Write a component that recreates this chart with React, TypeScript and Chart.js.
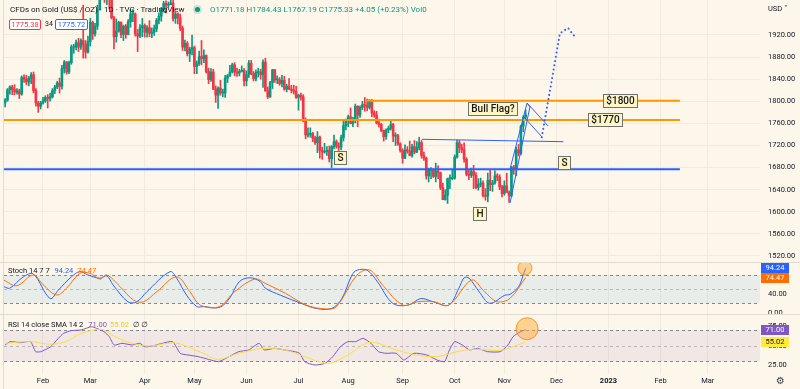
import React, { useEffect, useRef } from 'react';
import { Chart, registerables } from 'chart.js';

Chart.register(...registerables);

type Candle = [number, number, number, number]; // open, high, low, close
type Pt = [number, number]; // weekday index (0 = 3 Jan 2022), value

// ---------- price data (daily, weekday index starting at FIRST_BAR = 10 Jan 2022) ----------
const FIRST_BAR = 5;
const jan: Candle[] = [
  [1797, 1805, 1790, 1802], [1802, 1823, 1800, 1821], [1821, 1828, 1813, 1826], [1826, 1829, 1812, 1821], [1821, 1830, 1812, 1817],
  [1817, 1823, 1813, 1819], [1819, 1822, 1805, 1813], [1813, 1846, 1811, 1843], [1843, 1848, 1834, 1840], [1840, 1847, 1830, 1835],
  [1835, 1845, 1828, 1842], [1842, 1852, 1832, 1848], [1848, 1853, 1815, 1819], [1819, 1823, 1791, 1797], [1797, 1800, 1780, 1791],
  [1791, 1800, 1786, 1797],
];
const feb: Candle[] = [
  [1797, 1807, 1795, 1801], [1801, 1810, 1798, 1807], [1807, 1812, 1788, 1805], [1805, 1815, 1800, 1808],
  [1808, 1823, 1806, 1820], [1820, 1829, 1814, 1826], [1826, 1836, 1823, 1833], [1833, 1842, 1815, 1827], [1827, 1865, 1822, 1859],
  [1859, 1874, 1851, 1871], [1871, 1872, 1849, 1853], [1853, 1873, 1850, 1870], [1870, 1902, 1867, 1898], [1898, 1903, 1887, 1898],
  [1898, 1911, 1893, 1906], [1906, 1914, 1890, 1898], [1898, 1913, 1894, 1910], [1910, 1974, 1878, 1903], [1903, 1910, 1878, 1889],
  [1889, 1918, 1887, 1908],
];
const mar: Candle[] = [
  [1908, 1950, 1900, 1943], [1943, 1945, 1912, 1922], [1922, 1941, 1918, 1936], [1936, 1974, 1930, 1966],
  [1966, 2002, 1965, 1998], [1998, 2070, 1990, 2050], [2050, 2055, 1979, 1990], [1990, 2010, 1975, 2000], [2000, 2010, 1968, 1988],
  [1988, 1990, 1949, 1951], [1951, 1954, 1895, 1917], [1917, 1949, 1907, 1927], [1927, 1945, 1925, 1943], [1943, 1944, 1915, 1921],
  [1921, 1938, 1910, 1936], [1936, 1939, 1914, 1921], [1921, 1948, 1920, 1944], [1944, 1966, 1934, 1958], [1958, 1966, 1944, 1958],
  [1958, 1960, 1918, 1922], [1922, 1930, 1890, 1918], [1918, 1939, 1915, 1933], [1933, 1950, 1917, 1937],
];
const apr: Candle[] = [
  [1937, 1940, 1916, 1925],
  [1925, 1937, 1916, 1933], [1933, 1946, 1917, 1923], [1923, 1933, 1915, 1925], [1925, 1938, 1919, 1931], [1931, 1950, 1926, 1947],
  [1947, 1960, 1940, 1954], [1954, 1970, 1945, 1966], [1966, 1981, 1963, 1977], [1977, 1982, 1960, 1974], [1974, 1980, 1970, 1975],
  [1975, 1998, 1975, 1978], [1978, 1983, 1945, 1950], [1950, 1961, 1941, 1958], [1958, 1960, 1940, 1951], [1951, 1958, 1928, 1932],
  [1932, 1936, 1892, 1898], [1898, 1911, 1891, 1905], [1905, 1908, 1882, 1886], [1886, 1898, 1872, 1894], [1894, 1920, 1884, 1897],
];
const may: Candle[] = [
  [1897, 1900, 1850, 1863], [1863, 1873, 1850, 1868], [1868, 1891, 1865, 1881], [1881, 1910, 1866, 1877], [1877, 1893, 1870, 1883],
  [1883, 1884, 1851, 1854], [1854, 1860, 1832, 1839], [1839, 1859, 1836, 1853], [1853, 1858, 1821, 1822], [1822, 1828, 1798, 1811],
  [1811, 1826, 1787, 1824], [1824, 1838, 1811, 1815], [1815, 1822, 1808, 1815], [1815, 1847, 1807, 1842], [1842, 1849, 1834, 1846],
  [1846, 1865, 1845, 1853], [1853, 1869, 1851, 1866], [1866, 1870, 1846, 1853], [1853, 1860, 1845, 1851], [1851, 1858, 1846, 1854],
  [1854, 1864, 1853, 1856], [1856, 1859, 1828, 1837],
];
const jun: Candle[] = [
  [1837, 1855, 1828, 1848], [1848, 1874, 1843, 1869], [1869, 1874, 1848, 1850],
  [1850, 1854, 1837, 1841], [1841, 1857, 1837, 1852], [1852, 1860, 1844, 1853], [1853, 1858, 1840, 1848], [1848, 1875, 1825, 1871],
  [1871, 1878, 1818, 1819], [1819, 1826, 1805, 1808], [1808, 1836, 1807, 1834], [1834, 1858, 1823, 1857], [1857, 1858, 1834, 1839],
  [1839, 1846, 1832, 1839], [1839, 1843, 1829, 1832], [1832, 1847, 1826, 1838], [1838, 1845, 1820, 1822], [1822, 1831, 1817, 1827],
  [1827, 1841, 1821, 1822], [1822, 1829, 1815, 1820], [1820, 1829, 1813, 1818], [1818, 1827, 1805, 1807],
];
const jul: Candle[] = [
  [1807, 1813, 1784, 1811],
  [1811, 1815, 1802, 1808], [1808, 1812, 1763, 1764], [1764, 1770, 1732, 1739], [1739, 1752, 1735, 1740], [1740, 1752, 1735, 1742],
  [1742, 1744, 1727, 1733], [1733, 1737, 1722, 1725], [1725, 1745, 1707, 1735], [1735, 1737, 1697, 1711], [1711, 1717, 1695, 1708],
  [1708, 1724, 1706, 1709], [1709, 1718, 1702, 1711], [1711, 1719, 1690, 1696], [1696, 1720, 1680, 1718], [1718, 1739, 1714, 1727],
  [1727, 1730, 1715, 1719], [1719, 1725, 1711, 1717], [1717, 1739, 1712, 1734], [1734, 1766, 1728, 1756], [1756, 1768, 1748, 1766],
];
const aug: Candle[] = [
  [1766, 1775, 1754, 1772], [1772, 1788, 1759, 1760], [1760, 1771, 1754, 1765], [1765, 1795, 1761, 1791], [1791, 1792, 1754, 1775],
  [1775, 1792, 1771, 1789], [1789, 1800, 1785, 1794], [1794, 1807, 1782, 1792], [1792, 1804, 1783, 1789], [1789, 1803, 1786, 1802],
  [1802, 1803, 1772, 1779], [1779, 1783, 1771, 1775], [1775, 1782, 1759, 1761], [1761, 1768, 1753, 1758], [1758, 1760, 1745, 1747],
  [1747, 1748, 1728, 1736], [1736, 1750, 1731, 1748], [1748, 1755, 1743, 1751], [1751, 1765, 1748, 1758], [1758, 1760, 1727, 1737],
  [1737, 1743, 1720, 1738], [1738, 1740, 1720, 1723], [1723, 1725, 1708, 1711],
];
const sep: Candle[] = [
  [1711, 1714, 1688, 1697], [1697, 1721, 1696, 1712],
  [1712, 1718, 1706, 1710], [1710, 1728, 1701, 1702], [1702, 1722, 1699, 1718], [1718, 1729, 1705, 1708], [1708, 1727, 1707, 1716],
  [1716, 1735, 1712, 1725], [1725, 1729, 1697, 1702], [1702, 1708, 1693, 1697], [1697, 1699, 1659, 1665], [1665, 1679, 1654, 1675],
  [1675, 1680, 1660, 1675], [1675, 1678, 1662, 1664], [1664, 1688, 1654, 1674], [1674, 1683, 1660, 1671], [1671, 1672, 1640, 1644],
  [1644, 1652, 1622, 1622], [1622, 1640, 1621, 1630], [1630, 1661, 1615, 1660], [1660, 1667, 1642, 1660], [1660, 1675, 1658, 1661],
];
const oct: Candle[] = [
  [1661, 1703, 1659, 1699], [1699, 1730, 1697, 1725], [1725, 1729, 1707, 1716], [1716, 1722, 1707, 1712], [1712, 1725, 1690, 1695],
  [1695, 1698, 1665, 1668], [1668, 1677, 1658, 1666], [1666, 1679, 1662, 1673], [1673, 1684, 1642, 1666], [1666, 1671, 1642, 1644],
  [1644, 1660, 1639, 1650], [1650, 1661, 1645, 1652], [1652, 1656, 1627, 1629], [1629, 1642, 1621, 1628], [1628, 1670, 1618, 1657],
  [1657, 1675, 1638, 1649], [1649, 1657, 1637, 1652], [1652, 1674, 1650, 1665], [1665, 1669, 1656, 1663], [1663, 1667, 1640, 1645],
  [1645, 1648, 1627, 1633],
];
const nov: Candle[] = [
  [1633, 1656, 1630, 1647], [1647, 1670, 1635, 1635], [1635, 1638, 1617, 1629], [1629, 1682, 1627, 1681],
  [1681, 1684, 1668, 1676], [1676, 1717, 1665, 1712], [1712, 1722, 1701, 1706], [1706, 1757, 1703, 1755], [1755, 1774, 1745, 1771],
  [1771.18, 1784.43, 1767.19, 1775.33],
];

// ---------- axes ----------
const monthTickIdx = [21, 41, 64, 85, 107, 129, 150, 173, 195, 216, 238, 260, 282, 302];
const monthTickLabels = ['Feb', 'Mar', 'Apr', 'May', 'Jun', 'Jul', 'Aug', 'Sep', 'Oct', 'Nov', 'Dec', '2023', 'Feb', 'Mar'];
const priceTicks = [1520, 1560, 1600, 1640, 1680, 1720, 1760, 1800, 1840, 1880, 1920];
const stochTicks = [0, 40, 80];
const rsiTicks = [25, 50, 75];

// ---------- indicators ----------
const stochK: Pt[] = [
  [4.5, 55], [7, 52], [12.7, 76], [16.9, 82], [24, 30], [27.5, 48], [33, 76], [36.6, 87], [40, 80], [45, 73], [48, 78],
  [50.6, 59], [56.9, 23], [60.6, 23], [64.8, 44], [74.7, 87], [77.5, 73], [81.7, 37], [86, 13], [89, 13], [95.5, 11],
  [99.8, 30], [104, 66], [108.5, 74], [112.8, 66], [115, 52], [121.4, 37], [130, 20], [136.5, 9], [143, 9], [147.3, 30],
  [151.6, 80], [153.7, 90], [158, 90], [162.3, 66], [168.8, 20], [175.3, 16], [180.7, 30], [186, 23], [192.5, 16],
  [196.8, 52], [199, 74], [201.1, 73], [205.4, 44], [209.8, 20], [216.2, 37], [218.4, 39], [222, 55], [224, 80], [225, 94.24],
];
const stochD: Pt[] = [
  [4.5, 69], [9.9, 57], [16.9, 80], [21.1, 59], [26.8, 37.5], [31, 52], [36.6, 83.5], [40.9, 83.5], [45.1, 71], [47.9, 80],
  [53.6, 55], [59.2, 27], [63.4, 23], [69.1, 44.5], [77.5, 76], [83.1, 44.5], [87.4, 16.3], [95.5, 12.8], [102, 44.5],
  [110.6, 71.4], [114.9, 62.2], [123.5, 41], [132.2, 16.3], [140.8, 7.8], [145.1, 12.8], [153.7, 79.8], [159.1, 90.4],
  [164.5, 58.7], [173.1, 16.3], [179.6, 23.4], [186, 23.4], [192.5, 16.3], [202.2, 69.2], [207.6, 44.5], [213, 23.4],
  [218.4, 30.4], [225, 74.47],
];
const rsi: Pt[] = [
  [5, 51.3], [7.1, 55.6], [11.4, 54.3], [15.7, 55.6], [17.9, 42.7], [20, 42.7], [24.3, 49.1], [27.5, 59.9], [29.7, 66.3],
  [32.9, 69.8], [37.2, 70.7], [41.5, 74.9], [43.6, 72.8], [46.8, 68.5], [49, 62.1], [51.1, 51.3], [54.4, 53.5], [58.7, 51.3],
  [61.9, 53.5], [64, 49.1], [67.2, 50], [71.5, 53.5], [75.8, 55.6], [79, 40.6], [82.3, 38.4], [86.6, 36.3], [90.9, 32.8],
  [95.1, 29.8], [98.4, 34.1], [103.7, 42.7], [108, 44.9], [112.3, 53.5], [114.5, 44.9], [118.8, 47], [123.1, 44.9],
  [127.4, 42.7], [129.5, 40.6], [131.6, 29.8], [135.9, 25.5], [140.2, 27.6], [143.5, 36.3], [146.7, 49.1], [149.9, 55.6],
  [153.1, 55.6], [156.3, 59.9], [159.6, 53.5], [162.8, 42.7], [166, 40.6], [170.3, 40.6], [173.5, 32], [177.8, 40.6],
  [183.2, 38.4], [187.5, 32], [190.7, 29.8], [192.8, 44.9], [195, 55.6], [198.2, 51.3], [201.4, 44.9], [204.6, 47],
  [208.9, 42.7], [214.3, 42.7], [217.5, 51.3], [219.7, 62.1], [222.9, 68.5], [225, 71.0],
];
const rsiSma: Pt[] = [
  [5, 53.5], [15.7, 55.6], [24.3, 52.2], [30.7, 55.6], [37.2, 66.3], [45.8, 71.5], [50.1, 64.2], [56.5, 55.6], [65.1, 50],
  [73.7, 53.5], [78, 53.5], [88.7, 40.6], [95.1, 32.8], [103.7, 40.6], [114.5, 47], [123.1, 44.9], [131.6, 36.3],
  [140.2, 27.6], [144.5, 29.8], [151, 40.6], [157.4, 53.5], [161.7, 54.3], [168.2, 47], [178.9, 38.4], [187.5, 36.3],
  [196.1, 42.7], [202.5, 45.7], [208.9, 44.9], [215.4, 44.9], [225, 55.02],
];

// ---------- drawings (data coordinates: weekday index, price) ----------
const level1770: [number, number, number] = [4.52, 290.2, 1766.2];
const level1800: [number, number, number] = [157.1, 290.2, 1801];
const necklineLevel: [number, number, number] = [4.52, 290.2, 1677];
const flagTop: Pt[] = [[181.1, 1731.2], [240.9, 1726.9]];
const poleA: Pt[] = [[218.4, 1677.5], [225.6, 1796.9]];
const poleB: Pt[] = [[218.4, 1615.9], [226.8, 1789.7]];
const poleCap: Pt[] = [[225.6, 1796.9], [226.8, 1789.7]];
const flagA: Pt[] = [[225.6, 1796.9], [234.5, 1755.3]];
const flagB: Pt[] = [[223.9, 1773.4], [231.9, 1735.4]];
const projection: Pt[] = [[231.8, 1734.8], [239.5, 1923.1], [242.9, 1932.7], [245.9, 1916.4]];
const tags: [string, number, number][] = [
  ['Bull Flag?', 211.3, 1786.4], ['$1800', 265, 1801], ['$1770', 258.8, 1765.6],
  ['S', 146.7, 1697.4], ['S', 241.6, 1688.9], ['H', 205.5, 1596.4],
];
const stochMark: Pt = [224.7, 94.6];
const rsiMark: Pt = [225.6, 72.3];

// ---------- styling ----------
const X_MIN = 4.522;
const X_MAX = 324.05;
const BG = '#fdf6ea';
const GRID = '#f2eadd';
const TEXT = '#131722';
const UP = '#089981';
const DOWN = '#f23645';
const FONT = 'Roboto, "DejaVu Sans", sans-serif';

const candles: Candle[] = [...jan, ...feb, ...mar, ...apr, ...may, ...jun, ...jul, ...aug, ...sep, ...oct, ...nov];

function xAxis(labels: boolean): any {
  return {
    type: 'linear',
    min: X_MIN,
    max: X_MAX,
    offset: false,
    grid: { color: GRID, drawTicks: false, offset: false },
    border: { display: false },
    afterBuildTicks: (s: any) => { s.ticks = monthTickIdx.map((v) => ({ value: v })); },
    ticks: labels
      ? {
          autoSkip: false,
          maxRotation: 0,
          padding: 3,
          color: TEXT,
          font: (c: any) => ({ family: FONT, size: 7.5, weight: c.tick && c.tick.value === 260 ? 'bold' : 'normal' }),
          callback: (v: any) => {
            const k = monthTickIdx.indexOf(Number(v));
            return k >= 0 ? monthTickLabels[k] : '';
          },
        }
      : { display: false, autoSkip: false },
    afterFit: (s: any) => {
      s.height = labels ? 15 : 0;
      s.paddingLeft = 0;
      s.paddingRight = 0;
    },
  };
}

function yAxis(min: number, max: number, ticks: number[], grid: boolean): any {
  return {
    position: 'right',
    min,
    max,
    grid: { display: grid, color: GRID, drawTicks: false },
    border: { display: false },
    afterBuildTicks: (s: any) => { s.ticks = ticks.map((v) => ({ value: v })); },
    ticks: {
      autoSkip: false,
      padding: 8,
      color: TEXT,
      font: { family: FONT, size: 7.5 },
      callback: (v: any) => Number(v).toFixed(2),
    },
    afterFit: (s: any) => {
      s.width = 40;
      s.paddingTop = 0;
      s.paddingBottom = 0;
    },
  };
}

function valueBox(ctx: CanvasRenderingContext2D, left: number, cy: number, text: string, bg: string, fg: string) {
  ctx.fillStyle = bg;
  ctx.fillRect(left, Math.round(cy - 5), 28, 10);
  ctx.fillStyle = fg;
  ctx.font = `7.5px ${FONT}`;
  ctx.textAlign = 'center';
  ctx.textBaseline = 'middle';
  ctx.fillText(text, left + 14, Math.round(cy - 5) + 5.5);
}

function bandPlugin(id: string, lo: number, hi: number, fill: string) {
  return {
    id,
    beforeDatasetsDraw(chart: any) {
      const { ctx, chartArea: a, scales } = chart;
      const y = scales.y;
      const yHi = y.getPixelForValue(hi);
      const yLo = y.getPixelForValue(lo);
      const yMid = y.getPixelForValue(50);
      ctx.save();
      ctx.fillStyle = fill;
      ctx.fillRect(a.left, yHi, a.right - a.left, yLo - yHi);
      ctx.setLineDash([3, 3]);
      ctx.lineWidth = 1;
      ctx.strokeStyle = 'rgba(120,123,134,0.9)';
      [yHi, yLo].forEach((yy) => {
        ctx.beginPath();
        ctx.moveTo(a.left, Math.round(yy) + 0.5);
        ctx.lineTo(a.right, Math.round(yy) + 0.5);
        ctx.stroke();
      });
      ctx.strokeStyle = 'rgba(120,123,134,0.45)';
      ctx.beginPath();
      ctx.moveTo(a.left, Math.round(yMid) + 0.5);
      ctx.lineTo(a.right, Math.round(yMid) + 0.5);
      ctx.stroke();
      ctx.restore();
    },
  };
}

function markPlugin(id: string, mark: Pt, r: number, boxes: [number, string, string][]) {
  return {
    id,
    afterDraw(chart: any) {
      const { ctx, chartArea: a, scales } = chart;
      const x = scales.x;
      const y = scales.y;
      ctx.save();
      ctx.beginPath();
      ctx.rect(a.left, a.top, a.right - a.left, a.bottom - a.top);
      ctx.clip();
      ctx.beginPath();
      ctx.arc(x.getPixelForValue(mark[0]), y.getPixelForValue(mark[1]), r, 0, Math.PI * 2);
      ctx.fillStyle = 'rgba(255,167,38,0.45)';
      ctx.fill();
      ctx.strokeStyle = 'rgba(245,124,0,0.75)';
      ctx.lineWidth = 1;
      ctx.stroke();
      ctx.restore();
      ctx.save();
      boxes.forEach(([v, bg, fg]) => valueBox(ctx, a.right + 1, y.getPixelForValue(v), v.toFixed(2), bg, fg));
      ctx.restore();
    },
  };
}

const mainOverlay = {
  id: 'mainOverlay',
  afterDatasetsDraw(chart: any) {
    const { ctx, chartArea: a, scales } = chart;
    const X = (i: number) => scales.x.getPixelForValue(i);
    const Y = (p: number) => scales.y.getPixelForValue(p);
    ctx.save();
    ctx.beginPath();
    ctx.rect(a.left, a.top, a.right - a.left, a.bottom - a.top);
    ctx.clip();
    const level = (l: [number, number, number], color: string) => {
      ctx.strokeStyle = color;
      ctx.lineWidth = 2;
      ctx.beginPath();
      ctx.moveTo(X(l[0]), Y(l[2]));
      ctx.lineTo(X(l[1]), Y(l[2]));
      ctx.stroke();
    };
    level(level1770, '#ff9800');
    level(level1800, '#ff9800');
    level(necklineLevel, '#2962ff');
    const seg = (pts: Pt[], w: number) => {
      ctx.strokeStyle = '#2962ff';
      ctx.lineWidth = w;
      ctx.beginPath();
      pts.forEach((p, k) => (k === 0 ? ctx.moveTo(X(p[0]), Y(p[1])) : ctx.lineTo(X(p[0]), Y(p[1]))));
      ctx.stroke();
    };
    seg(flagTop, 1);
    seg(poleA, 1);
    seg(poleB, 1);
    seg(poleCap, 1);
    seg(flagA, 1);
    seg(flagB, 1);
    ctx.setLineDash([0.1, 4.2]);
    ctx.lineCap = 'round';
    seg(projection, 2);
    ctx.setLineDash([]);
    ctx.lineCap = 'butt';
    ctx.font = `500 10px ${FONT}`;
    ctx.textAlign = 'center';
    ctx.textBaseline = 'middle';
    tags.forEach(([t, i, p]) => {
      const cx = X(i);
      const cy = Y(p);
      const w = Math.round(ctx.measureText(t).width + 7);
      const h = 14;
      const l = Math.round(cx - w / 2);
      const tp = Math.round(cy - h / 2);
      ctx.fillStyle = '#fff7c2';
      ctx.fillRect(l, tp, w, h);
      ctx.strokeStyle = '#707070';
      ctx.lineWidth = 1;
      ctx.strokeRect(l + 0.5, tp + 0.5, w - 1, h - 1);
      ctx.fillStyle = TEXT;
      ctx.fillText(t, l + w / 2, tp + h / 2 + 0.5);
    });
    ctx.restore();
  },
};

export default function App() {
  const mainRef = useRef<HTMLCanvasElement>(null);
  const stochRef = useRef<HTMLCanvasElement>(null);
  const rsiRef = useRef<HTMLCanvasElement>(null);

  useEffect(() => {
    document.body.style.margin = '0';
    const wickData = candles.map((c, k) => ({ x: FIRST_BAR + k, y: [c[2], c[1]] }));
    const bodyData = candles.map((c, k) => ({ x: FIRST_BAR + k, y: [c[0], c[3]] }));
    const colors = candles.map((c) => (c[3] >= c[0] ? UP : DOWN));
    const common = {
      animation: false,
      responsive: false,
      maintainAspectRatio: false,
      events: [],
      plugins: { legend: { display: false }, tooltip: { enabled: false } },
    };

    const main = new Chart(mainRef.current!, {
      type: 'bar',
      data: {
        datasets: [
          { data: wickData as any, backgroundColor: colors, barThickness: 1, grouped: false, order: 2, borderWidth: 0 },
          { data: bodyData as any, backgroundColor: colors, barThickness: 2, grouped: false, order: 1, borderWidth: 0, minBarLength: 1 },
        ],
      },
      options: {
        ...common,
        layout: { autoPadding: false, padding: { left: 4, right: 0, top: 0, bottom: 1 } },
        scales: { x: xAxis(false), y: yAxis(1509.1, 1983.35, priceTicks, true) },
      } as any,
      plugins: [mainOverlay],
    });

    const lineDs = (pts: Pt[], color: string) => ({
      data: pts.map(([x, y]) => ({ x, y })),
      borderColor: color,
      borderWidth: 1,
      pointRadius: 0,
      pointHoverRadius: 0,
      tension: 0.35,
      fill: false,
    });

    const stoch = new Chart(stochRef.current!, {
      type: 'line',
      data: { datasets: [lineDs(stochD, '#ff6d00'), lineDs(stochK, '#2962ff')] as any },
      options: {
        ...common,
        layout: { autoPadding: false, padding: { left: 4, right: 0, top: 0, bottom: 0 } },
        scales: { x: xAxis(false), y: yAxis(-2.75, 105.3, stochTicks, false) },
      } as any,
      plugins: [
        bandPlugin('stochBand', 20, 80, 'rgba(33,150,243,0.09)'),
        markPlugin('stochMark', stochMark, 7, [
          [stochK[stochK.length - 1][1], '#2962ff', '#ffffff'],
          [stochD[stochD.length - 1][1], '#ff6d00', '#ffffff'],
        ]),
      ],
    });

    const rsiChart = new Chart(rsiRef.current!, {
      type: 'line',
      data: { datasets: [lineDs(rsiSma, '#f5e03a'), { ...lineDs(rsi, '#7e57c2'), tension: 0.2 }] as any },
      options: {
        ...common,
        layout: { autoPadding: false, padding: { left: 4, right: 0, top: 1, bottom: 0 } },
        scales: { x: xAxis(true), y: yAxis(13.87, 90, rsiTicks, false) },
      } as any,
      plugins: [
        bandPlugin('rsiBand', 30, 70, 'rgba(126,87,194,0.09)'),
        markPlugin('rsiMark', rsiMark, 11, [
          [rsi[rsi.length - 1][1], '#7e57c2', '#ffffff'],
          [rsiSma[rsiSma.length - 1][1], '#ffeb3b', '#131722'],
        ]),
      ],
    });

    return () => {
      main.destroy();
      stoch.destroy();
      rsiChart.destroy();
    };
  }, []);

  const last = candles[candles.length - 1];
  const kLast = stochK[stochK.length - 1][1];
  const dLast = stochD[stochD.length - 1][1];
  const rLast = rsi[rsi.length - 1][1];
  const sLast = rsiSma[rsiSma.length - 1][1];
  const abs = (s: React.CSSProperties): React.CSSProperties => ({ position: 'absolute', whiteSpace: 'nowrap', ...s });

  return (
    <div style={{ position: 'relative', width: 800, height: 389, background: BG, overflow: 'hidden', fontFamily: FONT, color: TEXT }}>
      <canvas ref={mainRef} width={800} height={263} style={{ position: 'absolute', left: 0, top: 0 }} />
      <canvas ref={stochRef} width={800} height={51} style={{ position: 'absolute', left: 0, top: 263 }} />
      <canvas ref={rsiRef} width={800} height={75} style={{ position: 'absolute', left: 0, top: 314 }} />
      <div style={abs({ left: 0, top: 262, width: 800, height: 1, background: '#e2dccf' })} />
      <div style={abs({ left: 0, top: 314, width: 800, height: 1, background: '#e2dccf' })} />
      <div style={abs({ left: 3, top: 0, width: 1, height: 389, background: '#e2dccf' })} />

      <div style={abs({ left: 10, top: 4, fontSize: 8, lineHeight: '12px' })}>CFDs on Gold (US$ / OZ) · 1D · TVC · TradingView</div>
      <div style={abs({ left: 195, top: 7, width: 5, height: 5, borderRadius: '50%', background: UP, boxShadow: '0 0 0 2px rgba(8,153,129,0.2)' })} />
      <div style={abs({ left: 210, top: 4, fontSize: 8, lineHeight: '12px', color: UP })}>
        O{last[0].toFixed(2)} H{last[1].toFixed(2)} L{last[2].toFixed(2)} C{last[3].toFixed(2)} +4.05 (+0.23%) Vol0
      </div>
      <div style={abs({ left: 9, top: 19, width: 30, height: 9, border: '1px solid #f23645', borderRadius: 2, background: '#ffffff', color: '#f23645', fontSize: 7.5, lineHeight: '9px', textAlign: 'center' })}>1775.38</div>
      <div style={abs({ left: 45, top: 19, fontSize: 7, lineHeight: '11px' })}>34</div>
      <div style={abs({ left: 55, top: 19, width: 31, height: 9, border: '1px solid #2962ff', borderRadius: 2, background: '#ffffff', color: '#2962ff', fontSize: 7.5, lineHeight: '9px', textAlign: 'center' })}>1775.72</div>
      <div style={abs({ left: 768, top: 3, fontSize: 7.5, lineHeight: '12px' })}>USD ˅</div>

      <div style={abs({ left: 8, top: 265, fontSize: 7.5, lineHeight: '11px' })}>
        Stoch 14 7 7 <span style={{ color: '#2962ff', marginLeft: 3 }}>{kLast.toFixed(2)}</span>
        <span style={{ color: '#ff6d00', marginLeft: 4 }}>{dLast.toFixed(2)}</span>
      </div>
      <div style={abs({ left: 8, top: 319, fontSize: 7.5, lineHeight: '11px' })}>
        RSI 14 close SMA 14 2 <span style={{ color: '#7e57c2', marginLeft: 3 }}>{rLast.toFixed(2)}</span>
        <span style={{ color: '#e8cf1c', marginLeft: 3 }}>{sLast.toFixed(2)}</span>
        <span style={{ marginLeft: 4 }}>∅ ∅</span>
      </div>
      <div style={abs({ left: 776, top: 375, fontSize: 10, lineHeight: '12px', fontFamily: '"DejaVu Sans", sans-serif', color: '#3a3e4a' })}>⚙</div>
    </div>
  );
}
